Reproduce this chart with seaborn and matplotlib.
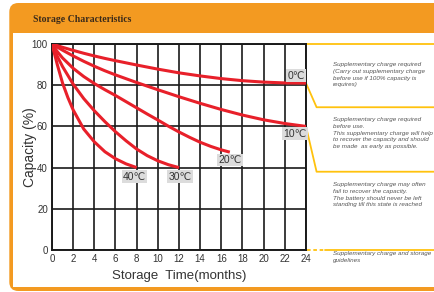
import pandas as pd
import matplotlib.pyplot as plt
import seaborn as sns
from matplotlib.patches import FancyBboxPatch, Rectangle

# capacity (%) vs storage time (months)
months_0c = [0, 1, 2, 3, 4, 5, 6, 8, 10, 12, 14, 16, 18, 20, 22, 24]
cap_0c = [100, 98.4, 96.9, 95.5, 94.2, 93, 91.9, 89.8, 87.8, 86, 84.5, 83.2, 82.2, 81.5, 81.1, 81]
months_10c = [0, 1, 2, 3, 4, 5, 6, 8, 10, 12, 14, 16, 18, 20, 22, 24]
cap_10c = [100, 97, 94.2, 91.6, 89.2, 87, 85, 81.3, 77.8, 74.4, 71.2, 68.2, 65.5, 63.2, 61.4, 60]
months_20c = [0, 0.5, 1, 2, 3, 4, 5, 6, 7, 8, 9, 10, 11, 12, 13, 14, 15, 16, 16.8]
cap_20c = [100, 96.3, 93.2, 88.2, 84.2, 80.8, 77.8, 75, 72, 69, 66, 63.1, 60.1, 57.3, 54.7, 52.3, 50.3, 48.6, 47.5]
months_30c = [0, 0.5, 1, 2, 3, 4, 5, 6, 7, 8, 9, 10, 11, 12]
cap_30c = [100, 94, 89, 80.5, 73.5, 67.6, 62.3, 57.4, 53, 49, 45.8, 43.3, 41.4, 40]
months_40c = [0, 0.5, 1, 1.5, 2, 3, 4, 5, 6, 7, 8]
cap_40c = [100, 90, 81, 74, 68, 58.7, 52.5, 47.7, 44.3, 41.8, 40]

temps = ["0℃", "10℃", "20℃", "30℃", "40℃"]
x_ticks = list(range(0, 25, 2))
y_ticks = [0, 20, 40, 60, 80, 100]

notes = [
    "Supplementary charge required\n(Carry out supplementary charge\nbefore use if 100% capacity is\nrequires)",
    "Supplementary charge required\nbefore use.\nThis supplementary charge will help\nto recover the capacity and should\nbe made  as early as possible.",
    "Supplementary charge may often\nfail to recover the capacity.\nThe battery should never be left\nstanding till this state is reached",
    "Supplementary charge and storage\nguidelines",
]

frames = []
for t, m, c in zip(temps, [months_0c, months_10c, months_20c, months_30c, months_40c],
                   [cap_0c, cap_10c, cap_20c, cap_30c, cap_40c]):
    frames.append(pd.DataFrame({"month": m, "capacity": c, "temp": t}))
df = pd.concat(frames, ignore_index=True)

sns.set_style("white")
plt.rcParams['font.family'] = ['Liberation Sans', 'DejaVu Sans']

orange = "#F39A21"
yellow = "#FFC20E"
red = "#E8202A"

fig = plt.figure(figsize=(4.35, 2.92), dpi=100)

# frame: orange rounded box with white body
fig.patches.append(FancyBboxPatch((0.093, 0.01), 4.6, 2.88,
                                  boxstyle="round,pad=0,rounding_size=0.09",
                                  transform=fig.dpi_scale_trans, fc=orange, ec="none", zorder=-2))
fig.patches.append(Rectangle((0.133, 0.05), 4.4, 2.54, transform=fig.dpi_scale_trans,
                             fc="white", ec="none", zorder=-1))
fig.text(33 / 435, 1 - 19 / 292, "Storage Characteristics", family="Liberation Serif",
         fontweight="bold", fontsize=7, color="#3a2a1a", va="center", ha="left")

ax = fig.add_axes([52 / 435, 42 / 292, 254 / 435, 206 / 292], zorder=2)
sns.lineplot(data=df, x="month", y="capacity", hue="temp", palette=[red] * 5,
             sort=False, estimator=None, legend=False, lw=2.2, ax=ax, zorder=3,
             solid_joinstyle="round", solid_capstyle="butt")

ax.set_xlim(0, 24)
ax.set_ylim(0, 100)
ax.set_xticks(x_ticks)
ax.set_yticks(y_ticks)
ax.grid(True, color="#1a1a1a", lw=1.2)
for s in ax.spines.values():
    s.set_color("#1a1a1a")
    s.set_linewidth(1.4)
ax.tick_params(length=0, pad=3, labelsize=7, colors="#333333")
ax.set_xlabel("Storage  Time(months)", fontsize=9.5, color="#333333", labelpad=4)
ax.set_ylabel("Capacity (%)", fontsize=10, color="#333333")
ax.yaxis.set_label_coords(-0.058, 0.5)

label_pos = [(23.05, 84.6), (22.95, 56.5), (16.8, 43.8), (12.1, 35.6), (7.8, 35.6)]
for t, (lx, ly) in zip(temps, label_pos):
    ax.text(lx, ly, t, fontsize=7.5, color="#333333", ha="center", va="center", zorder=5,
            bbox=dict(boxstyle="square,pad=0.12", fc="#dcdcdc", ec="none"))

# yellow guide lines to the notes
ax.plot([24.05, 36.5], [100, 100], color=yellow, lw=1.3, clip_on=False)
ax.plot([24, 25, 36.5], [81, 69.3, 69.3], color=yellow, lw=1.3, clip_on=False)
ax.plot([24, 25, 36.5], [60, 38, 38], color=yellow, lw=1.3, clip_on=False)
ax.plot([24.05, 25.8], [0, 0], color=yellow, lw=1.3, ls=(0, (2, 1.5)), clip_on=False)
ax.plot([25.8, 36.5], [0, 0], color=yellow, lw=1.3, clip_on=False)

note_tops = [62, 117, 182, 251]
for txt, top in zip(notes, note_tops):
    fig.text(333 / 435, 1 - top / 292, txt, fontsize=4.5, style="italic", color="#555555",
             va="top", ha="left", linespacing=1.45)

fig.savefig("out.png", dpi=100)
